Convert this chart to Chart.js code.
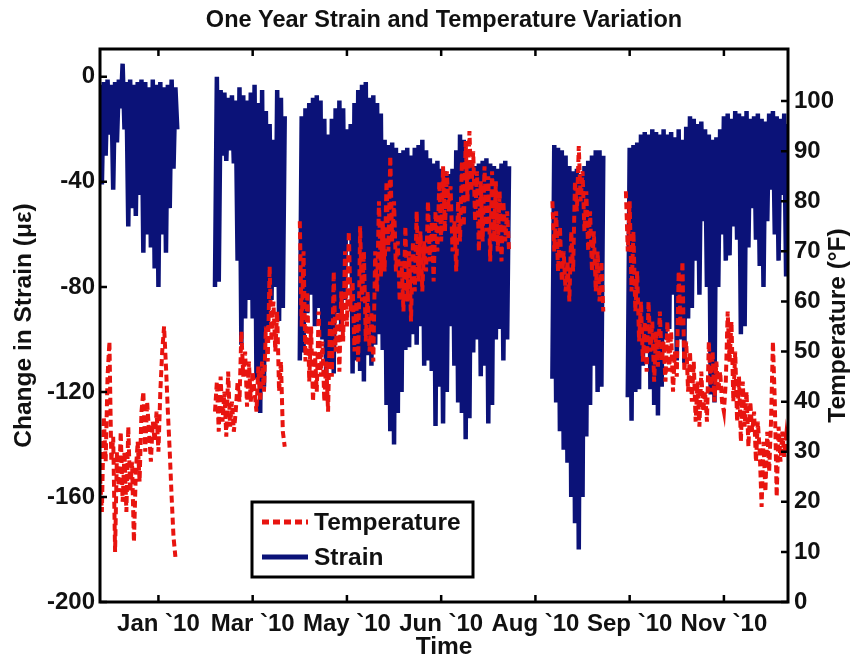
<!DOCTYPE html>
<html>
<head>
<meta charset="utf-8">
<script src="https://cdn.jsdelivr.net/npm/chart.js@4.4.1/dist/chart.umd.min.js"></script>
<style>
  body { margin: 0; background: #fff; }
</style>
</head>
<body>
<canvas id="strainChart" width="852" height="662"></canvas>
<script>
// x is days since the first reading (late Nov 2009)
const tickDays = [31, 81, 131, 181, 231, 281, 331];
const tickLabels = ['Jan `10', 'Mar `10', 'May `10', 'Jun `10', 'Aug `10', 'Sep `10', 'Nov `10'];
const strainTicks = [-200, -160, -120, -80, -40, 0];
const tempTicks = [0, 10, 20, 30, 40, 50, 60, 70, 80, 90, 100];

// strain (με), one reading a day, blocks split by logger outages
const strainStart = [0, 61, 106, 240, 280];
const strainA = [-3, -41, -2, -30, -1, -22, -3, -43, -2, -25, -1, -12, 5, -20, -2, -57, -1, -50, -3, -53,
  -2, -45, -1, -67, -2, -60, -4, -65, -1, -73, -3, -80, -2, -60, -4, -67, -3, -50, -1, -35, -4, -20];
const strainB = [-80, 0, -78, -5, -30, -6, -32, -8, -28, -7, -33, -9, -70, -4, -102, -7, -92, -9, -85, -6,
  -92, -3, -115, -10, -128, -5, -118, -13, -95, -18, -85, -24, -80, -5, -93, -8, -88, -15];
const strainC = [-108, -15, -105, -12, -90, -10, -83, -8, -95, -7, -88, -9, -100, -16, -114, -22, -110, -16, -113, -12,
  -90, -9, -97, -12, -85, -20, -60, -18, -113, -10, -108, -5, -112, -3, -116, -2, -106, -8, -110, -7,
  -102, -10, -98, -14, -104, -24, -125, -26, -135, -25, -140, -27, -128, -29, -120, -28, -104, -27, -103, -30,
  -98, -27, -102, -26, -95, -24, -110, -28, -108, -31, -112, -33, -133, -32, -118, -35, -132, -36, -120, -37,
  -95, -35, -110, -28, -124, -22, -128, -24, -138, -32, -130, -33, -105, -34, -100, -33, -114, -32, -110, -31,
  -132, -33, -125, -34, -100, -35, -96, -33, -108, -32, -100, -34];
const strainD = [-115, -26, -124, -27, -135, -28, -142, -30, -147, -34, -160, -36, -170, -35, -180, -37, -160, -34,
  -137, -32, -125, -30, -110, -28, -120, -28, -118, -30];
const strainE = [-122, -27, -131, -26, -120, -25, -119, -22, -110, -21, -105, -22, -119, -20, -125, -21, -129, -22, -118, -20,
  -100, -22, -96, -21, -83, -23, -108, -20, -100, -24, -109, -19, -92, -15, -88, -16, -70, -18, -83, -17,
  -55, -20, -80, -22, -121, -24, -124, -23, -80, -20, -60, -15, -70, -14, -68, -16, -57, -13, -62, -14,
  -98, -15, -95, -13, -65, -16, -50, -15, -62, -14, -72, -16, -80, -17, -55, -14, -43, -13, -60, -15,
  -70, -16, -45, -14, -76, -18];

// temperature (°F), same daily spacing
const tempStart = [0, 61, 106, 240, 279];
const tempA = [25, 18, 37, 28, 45, 52, 28, 33, 10, 30, 22, 34, 20, 30, 18, 35, 22, 28, 12, 26,
  32, 24, 38, 42, 30, 40, 34, 28, 36, 32, 38, 30, 42, 50, 55, 47, 38, 30, 21, 13, 9];
const tempB = [38, 44, 34, 45, 36, 42, 33, 46, 35, 40, 34, 38, 44, 40, 54, 45, 50, 39, 48, 40,
  46, 42, 38, 47, 40, 48, 42, 55, 48, 67, 52, 60, 50, 58, 42, 48, 34, 31];
const tempC = [76, 55, 70, 48, 62, 44, 55, 40, 50, 42, 58, 45, 52, 40, 48, 38, 56, 45, 66, 50,
  58, 46, 62, 52, 70, 55, 74, 58, 64, 50, 60, 48, 75, 60, 70, 52, 62, 50, 58, 48,
  70, 62, 80, 65, 76, 66, 84, 70, 89, 72, 80, 66, 72, 60, 68, 58, 75, 60, 70, 56,
  72, 62, 78, 64, 74, 62, 72, 66, 80, 68, 76, 64, 78, 70, 84, 72, 87, 74, 86, 78,
  83, 70, 76, 66, 80, 72, 88, 75, 92, 80, 94, 82, 90, 76, 86, 70, 84, 72, 87, 74,
  85, 68, 86, 72, 84, 70, 82, 68, 80, 72, 78, 70];
const tempD = [80, 70, 78, 66, 75, 64, 70, 62, 68, 60, 74, 66, 84, 78, 91, 80, 86, 74, 82, 70,
  78, 66, 74, 62, 70, 60, 68, 58];
const tempE = [82, 70, 80, 62, 74, 58, 66, 52, 60, 48, 56, 46, 60, 50, 56, 44, 54, 47, 58, 48,
  52, 44, 56, 46, 54, 42, 50, 45, 66, 55, 68, 46, 52, 42, 50, 40, 48, 36, 44, 35,
  46, 38, 42, 36, 52, 42, 50, 40, 48, 42, 46, 40, 38, 44, 58, 48, 56, 40, 50, 36,
  45, 32, 44, 35, 42, 31, 40, 34, 38, 28, 36, 30, 19, 32, 22, 34, 26, 36, 52, 40,
  21, 35, 28, 34, 29, 33, 30];

const NAVY = '#0b1278';
const RED = '#e8140f';
const FONT = "'Liberation Sans', Arial, sans-serif";

function toPoints(starts, blocks) {
  const pts = [];
  blocks.forEach((vals, b) => {
    vals.forEach((v, i) => pts.push({ x: starts[b] + i, y: v }));
    pts.push({ x: starts[b] + vals.length, y: null }); // break the line at the outage
  });
  return pts;
}

const fixTicks = list => scale => { scale.ticks = list.map(v => ({ value: v })); };

const extras = {
  id: 'extras',
  afterDraw(chart) {
    const { ctx, chartArea: a, scales } = chart;
    ctx.save();
    // box + inward ticks like the original plot
    ctx.strokeStyle = '#000';
    ctx.lineWidth = 3;
    ctx.strokeRect(a.left, a.top, a.right - a.left, a.bottom - a.top);
    ctx.lineWidth = 2.5;
    ctx.beginPath();
    tickDays.forEach(d => {
      const x = scales.x.getPixelForValue(d);
      ctx.moveTo(x, a.bottom); ctx.lineTo(x, a.bottom - 7);
      ctx.moveTo(x, a.top); ctx.lineTo(x, a.top + 7);
    });
    strainTicks.forEach(v => {
      const y = scales.y.getPixelForValue(v);
      ctx.moveTo(a.left, y); ctx.lineTo(a.left + 7, y);
    });
    tempTicks.forEach(v => {
      const y = scales.yT.getPixelForValue(v);
      ctx.moveTo(a.right, y); ctx.lineTo(a.right - 7, y);
    });
    ctx.stroke();

    // right axis title, reading bottom to top
    ctx.fillStyle = '#111';
    ctx.font = 'bold 24.5px ' + FONT;
    ctx.textAlign = 'center';
    ctx.textBaseline = 'middle';
    ctx.translate(838, (a.top + a.bottom) / 2);
    ctx.rotate(-Math.PI / 2);
    ctx.fillText('Temperature (°F)', 0, 0);
    ctx.setTransform(1, 0, 0, 1, 0, 0);

    // legend inside the plot
    const lx = a.left + 152, ly = a.bottom - 100, lw = 221, lh = 75;
    ctx.fillStyle = '#fff';
    ctx.fillRect(lx, ly, lw, lh);
    ctx.lineWidth = 3;
    ctx.strokeRect(lx, ly, lw, lh);
    chart.data.datasets.forEach((ds, i) => {
      const y = ly + 20 + i * 35;
      ctx.beginPath();
      ctx.strokeStyle = ds.borderColor;
      ctx.lineWidth = 5;
      ctx.setLineDash(ds.borderDash || []);
      ctx.moveTo(lx + 10, y); ctx.lineTo(lx + 56, y);
      ctx.stroke();
      ctx.setLineDash([]);
      ctx.fillStyle = '#111';
      ctx.font = 'bold 24.5px ' + FONT;
      ctx.textAlign = 'left';
      ctx.fillText(ds.label, lx + 62, y + 1);
    });
    ctx.restore();
  }
};

Chart.defaults.font.family = FONT;
Chart.defaults.font.weight = 'bold';
Chart.defaults.color = '#111';

new Chart(document.getElementById('strainChart').getContext('2d'), {
  type: 'line',
  data: {
    datasets: [{
      label: 'Temperature',
      data: toPoints(tempStart, [tempA, tempB, tempC, tempD, tempE]),
      yAxisID: 'yT',
      borderColor: RED,
      borderWidth: 4,
      borderDash: [7, 4],
      pointRadius: 0,
      tension: 0
    }, {
      label: 'Strain',
      data: toPoints(strainStart, [strainA, strainB, strainC, strainD, strainE]),
      yAxisID: 'y',
      borderColor: NAVY,
      borderWidth: 4.5,
      pointRadius: 0,
      tension: 0
    }]
  },
  options: {
    responsive: false,
    animation: false,
    layout: { padding: 0 },
    plugins: {
      legend: { display: false },
      tooltip: { enabled: false },
      title: {
        display: true,
        text: 'One Year Strain and Temperature Variation',
        fullSize: false,
        font: { size: 23.5, weight: 'bold' },
        padding: { top: 6, bottom: 14.8 }
      }
    },
    scales: {
      x: {
        type: 'linear',
        min: 0,
        max: 365,
        grid: { display: false, drawTicks: false },
        border: { display: false },
        afterBuildTicks: fixTicks(tickDays),
        afterFit: s => { s.height = 60; },
        ticks: {
          font: { size: 24 },
          padding: 8,
          maxRotation: 0,
          autoSkip: false,
          callback: v => tickLabels[tickDays.indexOf(v)]
        },
        title: { display: true, text: 'Time', font: { size: 24.5 }, padding: { top: 0, bottom: 0 } }
      },
      y: {
        position: 'left',
        min: -200,
        max: 10.6,
        grid: { display: false, drawTicks: false },
        border: { display: false },
        afterBuildTicks: fixTicks(strainTicks),
        afterFit: s => { s.width = 100; },
        ticks: { font: { size: 24 }, padding: 5 },
        title: { display: true, text: 'Change in Strain (με)', font: { size: 24.5 }, padding: { top: 10, bottom: 0 } }
      },
      yT: {
        position: 'right',
        min: 0,
        max: 110.4,
        grid: { display: false, drawTicks: false },
        border: { display: false },
        afterBuildTicks: fixTicks(tempTicks),
        afterFit: s => { s.width = 64; },
        ticks: { font: { size: 24 }, padding: 6 }
      }
    }
  },
  plugins: [extras]
});
</script>
</body>
</html>
